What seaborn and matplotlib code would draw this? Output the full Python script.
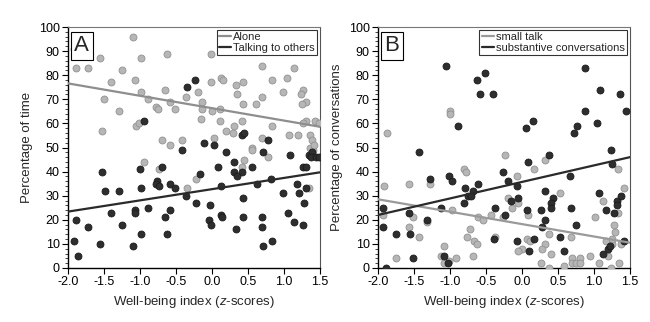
import matplotlib
matplotlib.use("Agg")
import matplotlib.pyplot as plt
import seaborn as sns
import numpy as np
from matplotlib.lines import Line2D

# ---------------- Panel A data ----------------
alone_x = [-1.86, -1.91, -1.10, -1.55, -0.99, -0.63, -1.89, -1.72, -1.25, -1.07, -1.40, -0.98,
           -0.65, -0.36, -1.50, -0.89, -0.59, -0.78, -0.75, -0.51, -1.29, -1.06, -1.01, -1.53,
           -0.69, -0.59, -0.41, -0.02, 0.70, 1.14, -0.19, -0.02, 0.13, 0.15, 0.33, 0.43, 0.83,
           1.04, 0.35, 0.69, 0.98, 1.27, 1.23, -0.14, 0.43, 0.61, 1.30, 1.25, -0.14, 0.00, 0.11,
           -0.15, 0.11, 0.42, 0.31, 0.19, 0.29, 0.83, 1.30, 1.43, 1.27, 1.07, 1.19, 1.36, 1.39,
           0.03, 0.70, 0.56, 1.36, -0.94, -0.74, -0.22, -0.35, 0.56, 0.45, 0.78, 0.41, 1.40,
           1.35, 1.48, 1.42]
alone_y = [95, 91, 96, 87, 87, 89, 83, 83, 82, 78, 77, 73,
           74, 71, 70, 70, 69, 67, 66, 66, 65, 59, 60, 57,
           53, 51, 53, 89, 84, 83, 73, 77, 79, 78, 76, 77, 78,
           79, 72, 71, 73, 74, 72, 69, 68, 68, 69, 68, 66, 65, 66,
           62, 61, 61, 59, 57, 56, 59, 61, 61, 60, 55, 55, 55, 53,
           54, 54, 50, 50, 44, 41, 37, 33, 49, 45, 46, 42, 49,
           33, 60, 51]

talk_x = [-0.24, -0.35, -0.94, -0.42, 0.42, 0.45, 0.78, -0.11, 0.03, -0.70, -1.00, -1.53,
          -0.76, -0.78, -0.73, -0.59, -0.51, -0.98, -1.49, -1.29, -0.36, -0.22, -0.89, -1.07,
          -1.07, -1.40, -0.58, -0.65, -1.89, -1.25, -1.72, -0.99, -0.63, -1.91, -1.55, -1.10,
          -1.86, 0.19, 0.71, 1.09, 1.35, 1.39, 1.38, 1.44, 0.31, 0.09, 0.56, 0.31, 0.42, 0.35,
          -0.16, 1.26, 1.31, 0.82, 0.62, 0.12, 1.18, 1.31, 0.98, 1.21, 0.43, -0.03, 1.28, 1.05,
          0.12, 0.14, 0.43, 0.69, -0.04, -0.01, 1.14, 1.26, 0.34, 0.70, 0.83, 0.71, 1.49]
talk_y = [78, 75, 61, 49, 55, 56, 53, 52, 51, 42, 41, 40,
          36, 35, 34, 35, 33, 33, 32, 32, 30, 27, 25, 24,
          23, 23, 24, 21, 20, 18, 17, 14, 14, 11, 10, 9,
          5, 48, 48, 47, 47, 48, 46, 46, 44, 42, 42, 40, 40, 38,
          39, 42, 42, 37, 35, 34, 35, 33, 31, 31, 29, 26, 27, 23,
          22, 21, 21, 21, 20, 18, 19, 18, 16, 17, 11, 9, 46]

# ---------------- Panel B data ----------------
small_x = [-1.00, -1.00, -1.88, -1.92, -1.57, -1.28, -0.81, -0.78, -0.24, -1.93, -1.52, -0.97,
           -1.32, -0.61, -0.54, -0.43, -0.26, -1.57, -1.43, -0.72, -0.76, -0.66, -0.62, -0.38,
           -1.08, -1.75, -1.13, -1.08, -0.92, -0.68, -1.01, 0.32, 0.17, -0.07, 1.33, 0.53,
           -0.19, -0.06, -0.14, 0.09, 1.12, 1.42, 1.34, 1.02, 1.28, 1.29, 0.38, 0.68, 0.07, 0.11,
           0.32, 0.28, 0.00, -0.05, 0.40, 1.17, 1.25, 1.19, 1.07, 0.27, 0.38, 0.59, 0.69, 0.69,
           0.75, 0.80, 0.80, 0.95, 1.23, 1.35, 1.38, 1.25]
small_y = [65, 64, 56, 34, 35, 35, 41, 40, 47, 22, 21, 24,
           19, 21, 20, 22, 21, 17, 13, 16, 13, 11, 10, 13,
           9, 4, 5, 2, 4, 5, 3, 45, 41, 38, 41, 31,
           29, 27, 25, 22, 28, 33, 23, 21, 18, 15, 14, 13, 12, 11,
           10, 8, 8, 7, 6, 11, 10, 5, 2, 2, 0, 1, 4, 2,
           2, 4, 2, 5, 0, 2, 10, 12]

subst_x = [-1.06, -0.51, -0.62, -0.58, -0.40, -0.89, 0.15, 0.06, 0.88, 1.09, 1.36, 0.87,
           1.44, 1.04, 0.76, 0.72, -1.43, -1.28, -1.01, -0.97, -0.26, -0.61, -0.79, -0.68,
           -0.75, -0.71, -0.81, -1.93, -1.13, -1.57, -0.38, -0.24, -1.32, -1.93, -1.75, -1.56,
           -0.39, -1.52, -1.09, -1.03, -1.89, 1.23, 1.25, 0.38, 0.08, -0.19, -0.07, 0.67, 0.32,
           0.43, 0.40, 0.40, -0.15, -0.05, 1.07, 1.32, 1.32, 1.38, 0.07, 0.27, 0.68, 1.17, 1.28,
           0.32, 0.28, 0.75, -0.07, 0.17, 0.53, 0.10, 0.59, 1.12, 1.19, 1.22, 1.42]
subst_y = [84, 81, 78, 72, 72, 59, 61, 58, 83, 74, 72, 65,
           65, 60, 59, 56, 48, 37, 38, 36, 40, 35, 33, 32,
           30, 30, 27, 25, 25, 23, 25, 22, 20, 17, 14, 14,
           12, 4, 5, 2, 0, 49, 43, 47, 44, 36, 34, 38, 32,
           29, 27, 25, 28, 29, 31, 28, 26, 30, 24, 24, 25, 24, 23,
           20, 17, 18, 11, 12, 13, 7, 7, 6, 8, 9, 11]

# Fitted trend lines as drawn in the figure (values at x = -2.0 and x = 1.5)
fit_x = [-2.0, 1.5]
alone_fit = [76.6, 58.6]
talk_fit = [23.4, 39.7]
small_fit = [28.5, 10.5]
subst_fit = [22.0, 46.0]

xticks = [-2.0, -1.5, -1.0, -0.5, 0.0, 0.5, 1.0, 1.5]
yticks = list(range(0, 101, 10))
xlabel = "Well-being index ($z$-scores)"

sns.set_style("white")
plt.rcParams['font.family'] = ['Liberation Sans', 'DejaVu Sans']
plt.rcParams['mathtext.fontset'] = 'custom'
plt.rcParams['mathtext.it'] = 'Liberation Sans:italic'

fig = plt.figure(figsize=(6.5, 3.22), dpi=100)
axA = fig.add_axes([68/650, 54/322, 252/650, 241/322])
axB = fig.add_axes([378/650, 54/322, 252/650, 241/322])

LIGHT_FACE, LIGHT_EDGE = "#b6b6b6", "#919191"
DARK_FACE, DARK_EDGE = "#2e2e2e", "#1a1a1a"
DARK_LINE = "#2a2a2a"


def panel(ax, x1, y1, x2, y2, f1, f2, lab1, lab2, line1, letter, ylabel):
    sns.scatterplot(x=x1, y=y1, ax=ax, color=LIGHT_FACE, edgecolor=LIGHT_EDGE,
                    linewidth=0.6, s=25, zorder=3)
    sns.scatterplot(x=x2, y=y2, ax=ax, color=DARK_FACE, edgecolor=DARK_EDGE,
                    linewidth=0.6, s=25, zorder=4)
    sns.lineplot(x=fit_x, y=f1, ax=ax, color=line1, lw=1.6, zorder=5)
    sns.lineplot(x=fit_x, y=f2, ax=ax, color=DARK_LINE, lw=1.6, zorder=5)
    ax.set_xlim(-2.0, 1.5)
    ax.set_ylim(0, 100)
    ax.set_xticks(xticks)
    ax.set_xticklabels([f"{t:.1f}" for t in xticks], fontsize=9)
    ax.set_yticks(yticks)
    ax.set_yticklabels([str(t) for t in yticks], fontsize=9)
    ax.set_yticks(np.arange(0, 101, 2), minor=True)
    ax.tick_params(axis='both', which='major', direction='out', length=4, width=0.8,
                   colors='black', pad=2, left=True, bottom=True)
    ax.tick_params(axis='y', which='minor', direction='out', length=2, width=0.6, left=True)
    ax.set_xlabel(xlabel, fontsize=9.5, labelpad=4)
    ax.set_ylabel(ylabel, fontsize=9.5, labelpad=4)
    for s in ['left', 'bottom']:
        ax.spines[s].set_color('black')
        ax.spines[s].set_linewidth(1.0)
    ax.spines['top'].set_color('#777777')
    ax.spines['right'].set_color('#555555')
    ax.text(0.025, 0.965, letter, transform=ax.transAxes, fontsize=16, va='top', ha='left',
            bbox=dict(boxstyle='square,pad=0.15', fc='white', ec='black', lw=0.8), zorder=10)
    handles = [Line2D([0], [0], color=line1, lw=1.6), Line2D([0], [0], color=DARK_LINE, lw=1.6)]
    leg = ax.legend(handles, [lab1, lab2], loc='upper right', fontsize=8, frameon=True,
                    fancybox=False, edgecolor='black', handlelength=1.1, handletextpad=0.2,
                    borderpad=0.2, labelspacing=0.05, borderaxespad=0.25)
    leg.get_frame().set_linewidth(0.8)
    leg.set_zorder(10)


panel(axA, alone_x, alone_y, talk_x, talk_y, alone_fit, talk_fit, "Alone", "Talking to others",
      "#8e8e8e", "A", "Percentage of time")
panel(axB, small_x, small_y, subst_x, subst_y, small_fit, subst_fit, "small talk",
      "substantive conversations", "#9a9a9a", "B", "Percentage of conversations")

fig.savefig("out.png", dpi=100)
